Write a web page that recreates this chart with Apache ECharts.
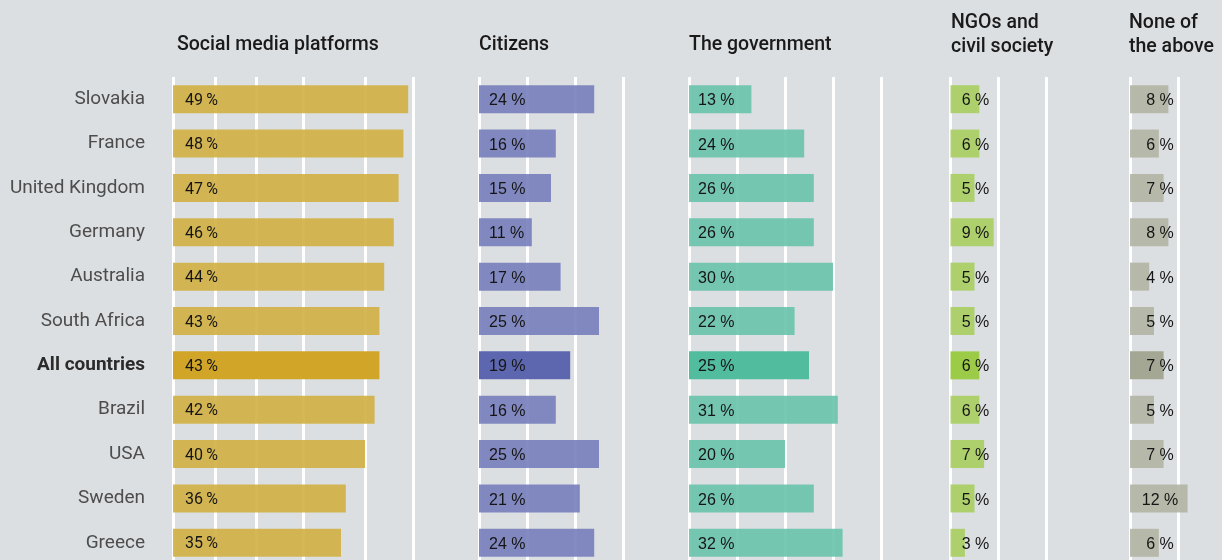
<!DOCTYPE html>
<html>
<head>
<meta charset="utf-8">
<script src="https://cdn.jsdelivr.net/npm/echarts@6/dist/echarts.min.js"></script>
<style>
html,body{margin:0;padding:0;background:#dcdfe2;overflow:hidden;}
#chart{width:1222px;height:580px;}
</style>
</head>
<body>
<div id="chart"></div>
<script>
const categories = ['Slovakia','France','United Kingdom','Germany','Australia','South Africa','All countries','Brazil','USA','Sweden','Greece'];
const highlightCategory = 'All countries';

const panelTitles = ['Social media platforms','Citizens','The government','NGOs and\ncivil society','None of\nthe above'];

const socialMedia = [49,48,47,46,44,43,43,42,40,36,35];
const citizens    = [24,16,15,11,17,25,19,16,25,21,24];
const government  = [13,24,26,26,30,22,25,31,20,26,32];
const ngos        = [6,6,5,9,5,5,6,6,7,5,3];
const noneAbove   = [8,6,7,8,4,5,7,5,7,12,6];

// gridline positions (in %) per panel
const ticksSocial = [0,8.75,17.4,27.2,40,50];
const ticksCitizens = [0,10,20,30];
const ticksGov = [0,10,20,30,40];
const ticksNgo = [0,10,20];
const ticksNone = [0,10];

const PX = 4.8; // px per percentage point
const panels = [
  {values: socialMedia, ticks: ticksSocial, left: 173, max: 50, color: 'rgba(208,176,66,0.9)', hi: '#d1a628', labelMode: 'left', labelX: 12, font: 'Roboto', sep: '\u2009%'},
  {values: citizens, ticks: ticksCitizens, left: 479, max: 30, color: 'rgba(117,126,187,0.9)', hi: '#5c67b0', labelMode: 'left', labelX: 10, font: 'Liberation Sans', sep: ' %'},
  {values: government, ticks: ticksGov, left: 689, max: 40, color: 'rgba(104,195,172,0.9)', hi: '#52bc9f', labelMode: 'left', labelX: 9, font: 'Liberation Sans', sep: ' %'},
  {values: ngos, ticks: ticksNgo, left: 950.5, max: 20, color: 'rgba(167,206,96,0.9)', hi: '#9ccb47', labelMode: 'center', labelX: 25, font: 'Liberation Sans', sep: ' %'},
  {values: noneAbove, ticks: ticksNone, left: 1130, max: 15, color: 'rgba(177,180,163,0.9)', hi: '#a5a795', labelMode: 'center', labelX: 30, font: 'Liberation Sans', sep: ' %'}
];
const titleY = [33, 33, 33, 11.5, 11.5];
const titleX = [177, 479, 689, 951, 1129];

const GRID_TOP = 77, GRID_H = 488;

const grids = [], xAxes = [], yAxes = [], series = [], titles = [];
panels.forEach((p, i) => {
  grids.push({left: p.left, top: GRID_TOP, width: p.max * PX, height: GRID_H, containLabel: false});
  xAxes.push({type: 'value', gridIndex: i, min: 0, max: p.max, show: false, splitLine: {show: false}});
  yAxes.push({
    type: 'category', gridIndex: i, data: categories, inverse: true,
    axisLine: {show: false}, axisTick: {show: false}, splitLine: {show: false},
    axisLabel: i === 0 ? {
      show: true, margin: 28, fontFamily: 'Roboto', fontSize: 19, color: '#4d4d4d',
      formatter: v => v === highlightCategory ? '{b|' + v + '}' : v,
      rich: {b: {fontFamily: 'Roboto', fontSize: 19, fontWeight: 'bold', color: '#2b2b2b'}}
    } : {show: false}
  });
  series.push({
    type: 'bar', xAxisIndex: i, yAxisIndex: i, barWidth: 28, z: 2,
    data: p.values.map((v, k) => ({
      value: v,
      itemStyle: {color: categories[k] === highlightCategory ? p.hi : p.color}
    })),
    label: {
      show: true,
      position: [p.labelX, '56%'],
      align: p.labelMode === 'center' ? 'center' : 'left',
      verticalAlign: 'middle',
      fontFamily: p.font, fontSize: 16, color: '#151515',
      formatter: d => d.value + p.sep
    },
    markLine: {
      silent: true, z: 1, symbol: 'none', animation: false,
      label: {show: false},
      lineStyle: {color: '#ffffff', width: 3, type: 'solid', opacity: 1},
      emphasis: {disabled: true},
      data: p.ticks.map(t => ({xAxis: t}))
    },
    animation: false
  });
  titles.push({
    text: panelTitles[i], left: titleX[i], top: titleY[i], padding: 0,
    textStyle: {fontFamily: 'Roboto', fontSize: 19.5, fontWeight: 500, color: '#1a1a1a', lineHeight: 24}
  });
});

const chart = echarts.init(document.getElementById('chart'));
chart.setOption({
  backgroundColor: '#dcdfe2',
  animation: false,
  title: titles,
  grid: grids,
  xAxis: xAxes,
  yAxis: yAxes,
  series: series
});
</script>
</body>
</html>
